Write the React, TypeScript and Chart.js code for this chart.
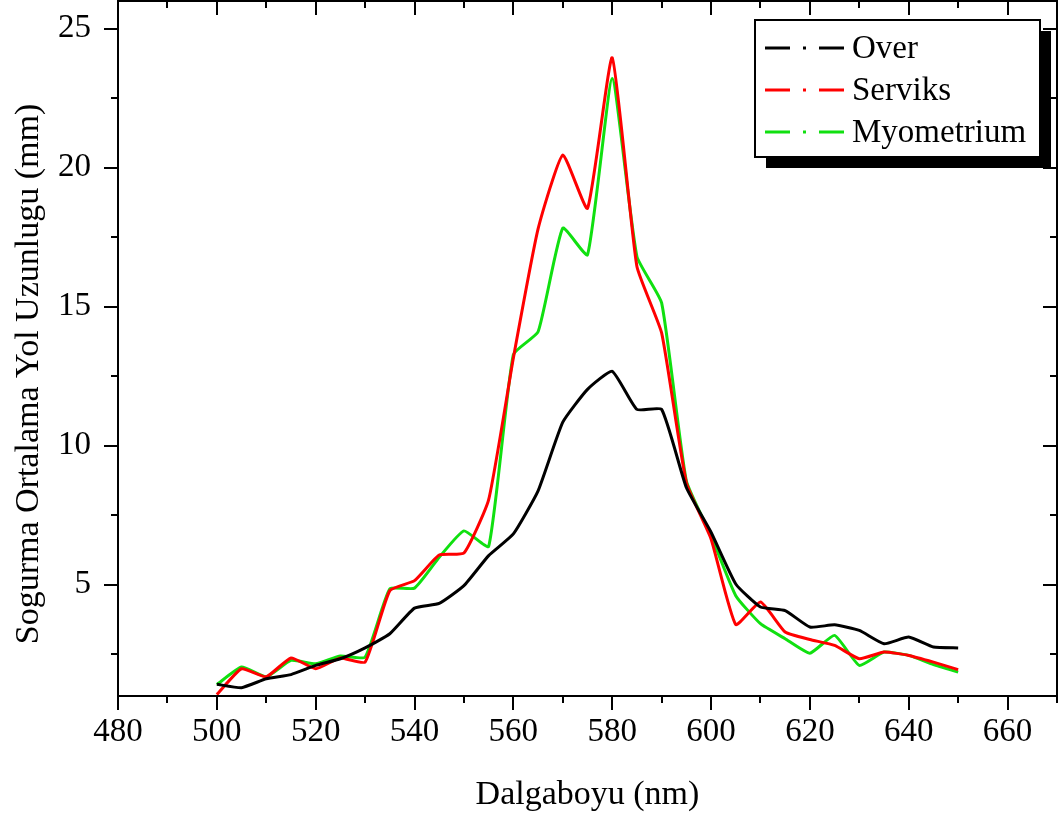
import React, { useEffect, useRef } from "react";
import { Chart, registerables } from "chart.js";

Chart.register(...registerables);

const wavelengths = [500, 505, 510, 515, 520, 525, 530, 535, 540, 545, 550, 555, 560, 565, 570, 575, 580, 585, 590, 595, 600, 605, 610, 615, 620, 625, 630, 635, 640, 645, 650];

const overValues = [1.42, 1.3, 1.62, 1.77, 2.1, 2.34, 2.73, 3.24, 4.16, 4.33, 4.97, 6.05, 6.83, 8.38, 10.85, 12.03, 12.68, 11.31, 11.31, 8.5, 6.89, 5.03, 4.2, 4.07, 3.48, 3.56, 3.36, 2.88, 3.12, 2.76, 2.73];

const serviksValues = [1.05, 1.98, 1.69, 2.37, 1.98, 2.37, 2.22, 4.79, 5.15, 6.07, 6.14, 8.06, 13.16, 17.8, 20.46, 18.54, 23.96, 16.45, 14.06, 8.68, 6.65, 3.57, 4.38, 3.3, 3.03, 2.82, 2.34, 2.58, 2.46, 2.22, 1.95];

const myometriumValues = [1.41, 2.04, 1.69, 2.28, 2.16, 2.44, 2.4, 4.85, 4.88, 5.99, 6.94, 6.38, 13.28, 14.1, 17.83, 16.87, 23.21, 16.81, 15.14, 8.74, 6.77, 4.61, 3.6, 3.06, 2.54, 3.18, 2.1, 2.58, 2.46, 2.13, 1.86];

const seriesNames = ["Over", "Serviks", "Myometrium"];
const seriesColors = ["#000000", "#ff0000", "#10e010"];

const xTickValues = [480, 500, 520, 540, 560, 580, 600, 620, 640, 660];
const xMinorTickValues = [490, 510, 530, 550, 570, 590, 610, 630, 650, 670];
const yTickValues = [5, 10, 15, 20, 25];
const yMinorTickValues = [2.5, 7.5, 12.5, 17.5, 22.5];

const xTitle = "Dalgaboyu (nm)";
const yTitle = "Sogurma Ortalama Yol Uzunlugu (mm)";

const FONT = "'Liberation Serif', 'Times New Roman', serif";

const decorPlugin = {
  id: "decor",
  afterDraw(chart: any) {
    const { ctx, chartArea } = chart;
    const xs = chart.scales.x;
    const ys = chart.scales.y;
    const { left, right, top, bottom } = chartArea;
    ctx.save();
    ctx.strokeStyle = "#000";
    ctx.lineWidth = 2;
    ctx.lineCap = "butt";
    ctx.strokeRect(left, top, right - left, bottom - top);
    const major = 14;
    const minor = 7;
    ctx.beginPath();
    xTickValues.forEach((v) => {
      const px = Math.round(xs.getPixelForValue(v));
      ctx.moveTo(px, bottom);
      ctx.lineTo(px, bottom + major);
      ctx.moveTo(px, top);
      ctx.lineTo(px, top + major);
    });
    xMinorTickValues.forEach((v) => {
      const px = Math.round(xs.getPixelForValue(v));
      ctx.moveTo(px, bottom);
      ctx.lineTo(px, bottom + minor);
      ctx.moveTo(px, top);
      ctx.lineTo(px, top + minor);
    });
    yTickValues.forEach((v) => {
      const py = Math.round(ys.getPixelForValue(v));
      ctx.moveTo(left, py);
      ctx.lineTo(left - major, py);
      ctx.moveTo(right, py);
      ctx.lineTo(right - major, py);
    });
    yMinorTickValues.forEach((v) => {
      const py = Math.round(ys.getPixelForValue(v));
      ctx.moveTo(left, py);
      ctx.lineTo(left - minor, py);
      ctx.moveTo(right, py);
      ctx.lineTo(right - minor, py);
    });
    ctx.stroke();

    ctx.fillStyle = "#000";
    ctx.font = `34px ${FONT}`;
    ctx.textAlign = "center";
    ctx.textBaseline = "middle";
    ctx.fillText(xTitle, (left + right) / 2, 795);
    ctx.save();
    ctx.translate(29, 374);
    ctx.rotate(-Math.PI / 2);
    ctx.fillText(yTitle, 0, 0);
    ctx.restore();

    const bx = 755, by = 20, bw = 285, bh = 137, sh = 11;
    ctx.fillStyle = "#000";
    ctx.fillRect(bx + sh, by + sh, bw, bh);
    ctx.fillStyle = "#fff";
    ctx.fillRect(bx, by, bw, bh);
    ctx.lineWidth = 2;
    ctx.strokeRect(bx, by, bw, bh);
    ctx.font = `33px ${FONT}`;
    ctx.textAlign = "left";
    ctx.textBaseline = "middle";
    const rows = [48, 90, 132];
    seriesNames.forEach((name, i) => {
      const ry = rows[i];
      ctx.strokeStyle = seriesColors[i];
      ctx.lineWidth = 3;
      ctx.setLineDash([25, 13, 3, 13]);
      ctx.beginPath();
      ctx.moveTo(765, ry);
      ctx.lineTo(844, ry);
      ctx.stroke();
      ctx.setLineDash([]);
      ctx.fillStyle = "#000";
      ctx.fillText(name, 852, ry + 1);
    });
    ctx.restore();
  },
};

export default function App() {
  const canvasRef = useRef<HTMLCanvasElement | null>(null);

  useEffect(() => {
    document.body.style.margin = "0";
    const canvas = canvasRef.current;
    if (!canvas) return;
    const mk = (vals: number[]) => wavelengths.map((x, i) => ({ x, y: vals[i] }));
    const ds = (i: number, vals: number[]) => ({
      label: seriesNames[i],
      data: mk(vals),
      borderColor: seriesColors[i],
      borderWidth: 3,
      pointRadius: 0,
      tension: 0.15,
      fill: false,
    });
    const chart = new Chart(canvas, {
      type: "line",
      data: {
        datasets: [ds(0, overValues), ds(1, serviksValues), ds(2, myometriumValues)],
      },
      options: {
        responsive: false,
        animation: false,
        layout: { padding: { top: 1, right: 1, left: 0, bottom: 0 } },
        plugins: { legend: { display: false }, tooltip: { enabled: false } },
        scales: {
          x: {
            type: "linear",
            min: 480,
            max: 670,
            grid: { display: false, drawTicks: false, tickLength: 0 },
            border: { display: false },
            afterBuildTicks: (s: any) => {
              s.ticks = xTickValues.map((v) => ({ value: v }));
            },
            afterFit: (s: any) => {
              s.height = 123;
              s.paddingLeft = 0;
              s.paddingRight = 0;
              s.paddingTop = 0;
              s.paddingBottom = 0;
            },
            ticks: {
              autoSkip: false,
              maxRotation: 0,
              padding: 17,
              color: "#000",
              font: { family: FONT, size: 33 },
            },
          },
          y: {
            type: "linear",
            min: 1,
            max: 26,
            grid: { display: false, drawTicks: false, tickLength: 0 },
            border: { display: false },
            afterBuildTicks: (s: any) => {
              s.ticks = yTickValues.map((v) => ({ value: v }));
            },
            afterFit: (s: any) => {
              s.width = 118;
              s.paddingLeft = 0;
              s.paddingRight = 0;
              s.paddingTop = 0;
              s.paddingBottom = 0;
            },
            ticks: {
              padding: 27,
              color: "#000",
              font: { family: FONT, size: 33 },
            },
          },
        },
      },
      plugins: [decorPlugin],
    });
    return () => chart.destroy();
  }, []);

  return <canvas ref={canvasRef} width={1058} height={819} style={{ display: "block" }} />;
}
